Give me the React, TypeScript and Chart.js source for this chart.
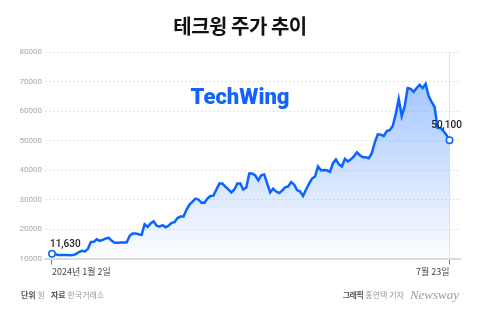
import React, { useEffect, useRef } from "react";
import { Chart, registerables } from "chart.js";

Chart.register(...registerables);

// 테크윙 일별 종가 (원), 2024-01-02 ~ 2024-07-23
const prices = [
  11630, 11500, 11200, 11200, 11150, 11200, 11100, 11200, 11500, 12200,
  12600, 12400, 13200, 15600, 15700, 16500, 16000, 16300, 16800, 17000,
  16000, 15300, 15300, 15400, 15400, 15500, 17700, 18500, 18500, 18200,
  18000, 21600, 20700, 21900, 22600, 21100, 20800, 21300, 20600, 21100,
  22100, 22300, 23700, 24200, 24200, 26500, 28300, 29300, 30300, 30000,
  28900, 28900, 30300, 31200, 31300, 33400, 35400, 35400, 34400, 33400,
  32400, 33400, 35400, 35400, 33400, 34100, 38800, 38800, 38200, 36500,
  38200, 38500, 35400, 32400, 33700, 32700, 32200, 33000, 34100, 34400,
  35900, 35100, 33200, 32700, 31200, 33400, 35400, 37100, 37800, 41200,
  39900, 40000, 39900, 39400, 42300, 43600, 41900, 41200, 43800, 42900,
  43600, 44600, 46000, 45000, 44300, 44300, 44000, 45700, 49400, 52100,
  52000, 51500, 53200, 53500, 54900, 59000, 64100, 58300, 61700, 67800,
  67500, 66500, 67800, 68900, 67800, 69200, 65100, 63100, 61400, 54200,
  54200, 53200, 51800, 50100,
];

const dateLabels = ["2024년 1월 2일", "7월 23일"];
const yMin = 10000;
const yMax = 80000;
const yStep = 10000;

const titleText = "테크윙 주가 추이";
const brandText = "TechWing";

const LINE_BLUE = "#0a64ff";
const KR_FONT = "'Noto Sans CJK KR', 'Noto Sans', sans-serif";

const fmt = (v: number) => v.toLocaleString("en-US");

export default function App() {
  const canvasRef = useRef<HTMLCanvasElement>(null);

  useEffect(() => {
    const canvas = canvasRef.current;
    if (!canvas) return;
    const last = prices.length - 1;

    // first / last value labels above the end points
    const endLabels = {
      id: "endLabels",
      afterDatasetsDraw(chart: any) {
        const meta = chart.getDatasetMeta(0);
        const p0 = meta.data[0];
        const p1 = meta.data[last];
        const ctx = chart.ctx;
        ctx.save();
        ctx.fillStyle = "#1e1e1e";
        ctx.font = "500 10px Roboto, sans-serif";
        ctx.textBaseline = "alphabetic";
        ctx.textAlign = "left";
        ctx.fillText(fmt(prices[0]), p0.x - 2, p0.y - 7);
        ctx.textAlign = "center";
        ctx.fillText(fmt(prices[last]), p1.x - 3, p1.y - 12);
        ctx.restore();
      },
    };

    const chart = new Chart(canvas, {
      type: "line",
      data: {
        datasets: [
          {
            data: prices.map((v, i) => ({ x: i, y: v })),
            borderColor: LINE_BLUE,
            borderWidth: 2.5,
            tension: 0,
            fill: "start",
            backgroundColor: (c: any) => {
              const a = c.chart.chartArea;
              if (!a) return "rgba(0,0,0,0)";
              const g = c.chart.ctx.createLinearGradient(0, a.top, 0, a.bottom);
              g.addColorStop(0, "rgba(120,170,255,0.78)");
              g.addColorStop(1, "rgba(120,170,255,0.02)");
              return g;
            },
            pointRadius: (c: any) => (c.dataIndex === 0 || c.dataIndex === last ? 3.2 : 0),
            pointHoverRadius: 0,
            pointBackgroundColor: "#ffffff",
            pointBorderColor: LINE_BLUE,
            pointBorderWidth: 1.5,
          },
        ],
      },
      options: {
        animation: false,
        responsive: false,
        maintainAspectRatio: false,
        devicePixelRatio: 1,
        layout: { padding: { top: 52, right: 20, left: 0, bottom: 0 } },
        plugins: {
          legend: { display: false },
          tooltip: { enabled: false },
        },
        scales: {
          x: {
            type: "linear",
            min: -2.34,
            max: 136.5,
            afterBuildTicks: (s: any) => {
              s.ticks = [{ value: 0 }, { value: last }];
            },
            afterFit: (s: any) => {
              s.height = 50.5;
            },
            ticks: {
              autoSkip: false,
              maxRotation: 0,
              align: "inner",
              padding: 2,
              color: "#444",
              font: { family: KR_FONT, size: 9 },
              callback: (_v: any, i: number) => dateLabels[i],
            },
            grid: {
              drawOnChartArea: true,
              color: (c: any) => (c.index === 1 ? "#e2e2e2" : "rgba(0,0,0,0)"),
              tickColor: "#7a7a7a",
              tickLength: 6,
              lineWidth: 1,
            },
            border: { display: true, color: "#dadada", width: 2 },
          },
          y: {
            min: yMin,
            max: yMax,
            afterFit: (s: any) => {
              s.width = 45;
            },
            ticks: {
              stepSize: yStep,
              color: "#a8a8a8",
              padding: 3,
              font: { family: "Roboto, sans-serif", size: 8 },
              callback: (v: any) => String(v),
            },
            grid: { color: "#e4e4e4", lineWidth: 1, drawTicks: false },
            border: { display: false, dash: [2, 2] },
          },
        },
      },
      plugins: [endLabels],
    } as any);

    return () => chart.destroy();
  }, []);

  return (
    <div
      style={{
        position: "fixed",
        left: 0,
        top: 0,
        width: 480,
        height: 309,
        background: "#ffffff",
        overflow: "hidden",
      }}
    >
      <canvas ref={canvasRef} width={480} height={309} style={{ width: 480, height: 309, display: "block" }} />
      <div
        style={{
          position: "absolute",
          top: 14,
          left: 0,
          width: 480,
          textAlign: "center",
          fontFamily: KR_FONT,
          fontWeight: 700,
          fontSize: 20,
          lineHeight: "24px",
          color: "#111",
          letterSpacing: -0.5,
        }}
      >
        {titleText}
      </div>
      <div
        style={{
          position: "absolute",
          top: 83,
          left: 0,
          width: 480,
          textAlign: "center",
          fontFamily: "Roboto, sans-serif",
          fontWeight: 900,
          fontSize: 22,
          lineHeight: "28px",
          color: "#1462ff",
        }}
      >
        {brandText}
      </div>
      <div
        style={{
          position: "absolute",
          top: 289,
          left: 21,
          fontFamily: KR_FONT,
          fontSize: 8,
          lineHeight: "12px",
          color: "#9a9a9a",
          whiteSpace: "nowrap",
        }}
      >
        <span style={{ color: "#555", fontWeight: 700 }}>단위</span> 원
        <span style={{ color: "#555", fontWeight: 700, marginLeft: 6 }}>자료</span> 한국거래소
      </div>
      <div
        style={{
          position: "absolute",
          top: 289,
          right: 21,
          fontFamily: KR_FONT,
          fontSize: 8,
          lineHeight: "12px",
          color: "#9a9a9a",
          whiteSpace: "nowrap",
          display: "flex",
          alignItems: "center",
        }}
      >
        <span style={{ color: "#555", fontWeight: 700, letterSpacing: -0.5 }}>그래픽</span>
        <span style={{ marginLeft: 2 }}>홍연택 기자</span>
        <span
          style={{
            marginLeft: 6,
            fontFamily: "'Liberation Serif', serif",
            fontStyle: "italic",
            fontSize: 13,
            color: "#9c9c9c",
          }}
        >
          Newsway
        </span>
      </div>
    </div>
  );
}
